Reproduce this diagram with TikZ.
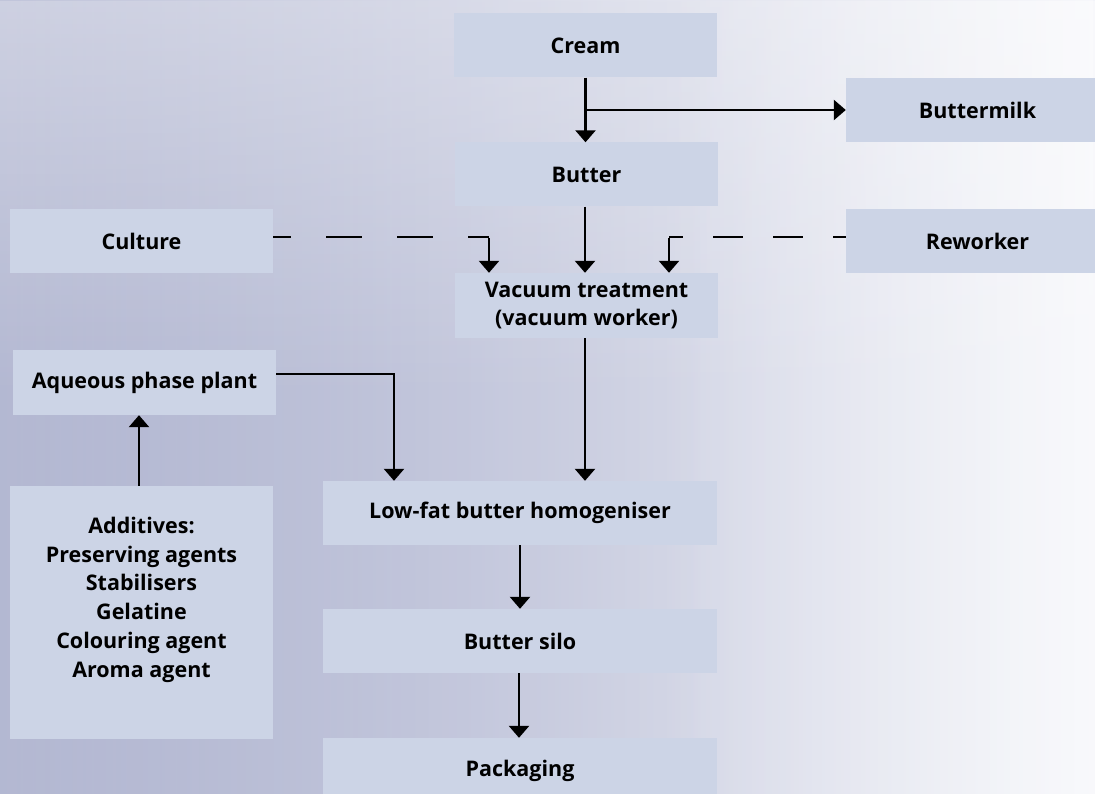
\documentclass[tikz,border=0pt]{standalone}
\usepackage{fontspec}
\setmainfont{Open Sans}
\usetikzlibrary{arrows.meta,fadings,calc}
\definecolor{boxfill}{RGB}{204,212,230}
\definecolor{bgleft}{RGB}{160,166,199}
\definecolor{bgmid}{RGB}{200,203,222}
\definecolor{bgright}{RGB}{243,244,249}
\tikzset{
  procbox/.style={rectangle, fill=boxfill, inner sep=0pt, minimum width=263pt, minimum height=64pt,
    font=\fontsize{21.5}{28.5}\selectfont\bfseries, align=center},
  widebox/.style={procbox, minimum width=394pt},
  flow/.style={line width=2.6pt, -{Triangle[width=20pt,length=12pt]}},
  plainline/.style={line width=2.6pt},
  dashline/.style={line width=2.6pt}
}
\begin{document}
\begin{tikzpicture}[x=1pt,y=-1pt]
\useasboundingbox (0,0) rectangle (1095,794);
% background
\shade[left color=bgleft, middle color=bgmid, right color=bgright, shading angle=90] (0,0) rectangle (1095,794);
\shade[left color=bgleft, right color=bgright] (0,0) rectangle (1095,794);
\fill[bgmid, path fading=east, opacity=0.5] (0,0) rectangle (700,794);
\fill[white, path fading=south, opacity=0.35] (0,0) rectangle (1095,400);
\fill[white, path fading=west, opacity=0.45] (650,0) rectangle (1095,794);

% nodes
\node[procbox] (cream) at (585.5,45.5) {Cream};
\node[procbox] (butter) at (586.5,174.5) {Butter};
\node[procbox] (bmilk) at (977.5,110) {Buttermilk};
\node[procbox] (culture) at (141.5,241) {Culture};
\node[procbox] (rework) at (977.5,241) {Reworker};
\node[procbox, minimum height=65pt] (vac) at (586.5,305.5) {Vacuum treatment\\(vacuum worker)};
\node[procbox, minimum height=65pt] (aq) at (144.5,382.5) {Aqueous phase plant};
\node[procbox, minimum height=253pt] (addbox) at (141.5,612.5) {};
\node[font=\fontsize{21.5}{28.7}\selectfont\bfseries, align=center, inner sep=0pt, anchor=north] (add) at (141.5,517)
  {Additives:\\Preserving agents\\Stabilisers\\Gelatine\\Colouring agent\\Aroma agent};
\node[widebox] (low) at (520,513) {Low-fat butter homogeniser};
\node[widebox] (silo) at (520,641) {Butter silo};
\node[widebox, minimum height=65pt] (pack) at (520,770.5) {Packaging};

% connectors
\coordinate (cc) at (489,237);
\coordinate (rc) at (669,237);
\coordinate (ac) at (394,374);

\draw[flow] (cream.south) -- (cream.south |- butter.north);
\draw[flow] ([xshift=1.3pt]cream.south |- bmilk.west) -- (bmilk.west);
\draw[flow] ([xshift=-1.5pt]butter.south) -- ([xshift=-1.5pt]butter.south |- vac.north);
\draw[dashline, dash pattern=on 36pt off 35pt, dash phase=18pt] (culture.east |- cc) -- (cc);
\draw[flow] ([yshift=-1.3pt]cc) -- (cc |- vac.north);
\draw[dashline, dash pattern=on 30pt off 30pt, dash phase=17pt] (rework.west |- rc) -- (rc);
\draw[flow] ([yshift=-1.3pt]rc) -- (rc |- vac.north);
\draw[flow] ([xshift=-1.5pt]vac.south) -- ([xshift=-1.5pt]vac.south |- low.north);
\draw[flow] (aq.east |- ac) -- (ac) -- (ac |- low.north);
\draw[flow] ([xshift=-2.5pt]addbox.north) -- ([xshift=-2.5pt]addbox.north |- aq.south);
\draw[flow] (low.south) -- (low.south |- silo.north);
\draw[flow] ([xshift=-1pt]silo.south) -- ([xshift=-1pt]silo.south |- pack.north);
\end{tikzpicture}
\end{document}
